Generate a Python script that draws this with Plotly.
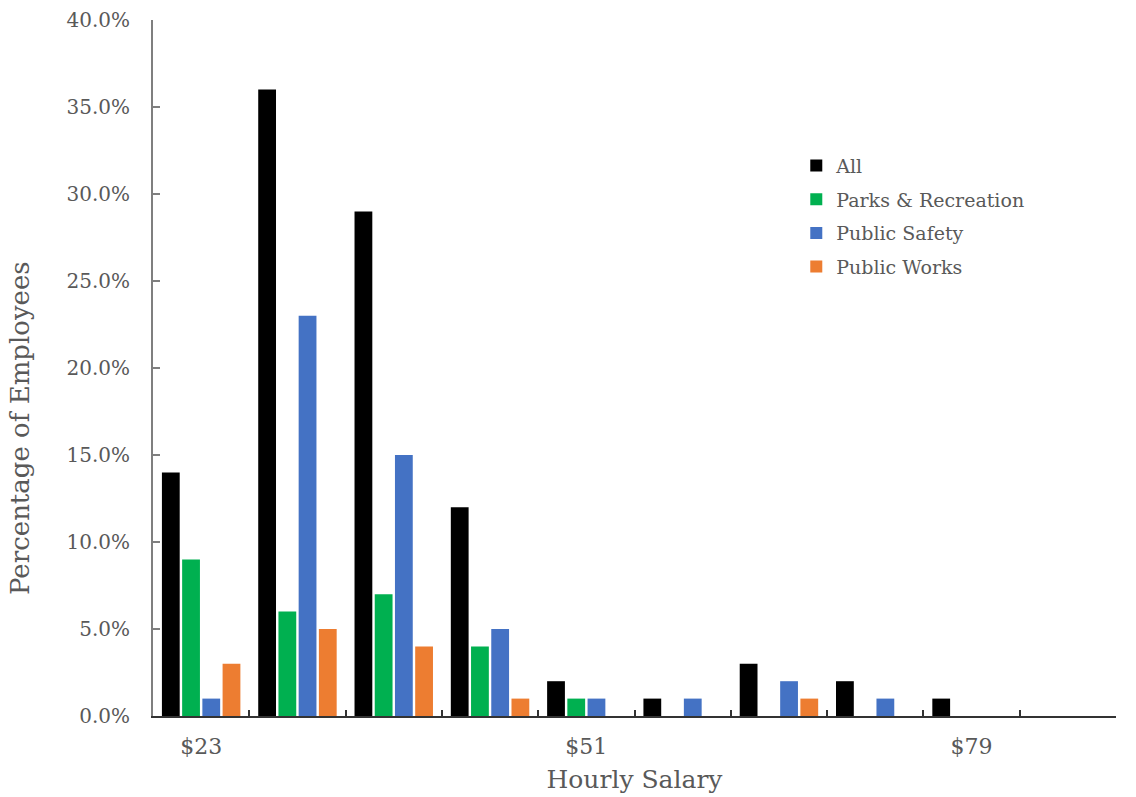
import plotly.graph_objects as go

# Hourly salary bins (upper edge of each $7 bracket)
categories = ["$23", "$30", "$37", "$44", "$51", "$58", "$65", "$72", "$79", "$86"]
tick_labels = ["$23", "", "", "", "$51", "", "", "", "$79", ""]

# Share of employees in each bracket, in percent
all_pct = [14, 36, 29, 12, 2, 1, 3, 2, 1, 0]
parks_pct = [9, 6, 7, 4, 1, 0, 0, 0, 0, 0]
safety_pct = [1, 23, 15, 5, 1, 1, 2, 1, 0, 0]
works_pct = [3, 5, 4, 1, 0, 0, 1, 0, 0, 0]

series = [
    ("All", all_pct, "#000000"),
    ("Parks & Recreation", parks_pct, "#00b050"),
    ("Public Safety", safety_pct, "#4472c4"),
    ("Public Works", works_pct, "#ed7d31"),
]

FONT = "DejaVu Serif"
TEXT = "#595959"

fig = go.Figure()
for name, values, color in series:
    fig.add_trace(go.Bar(
        x=categories, y=values, name=name, legendgroup=name,
        marker=dict(color=color, line=dict(width=0)),
    ))

fig.update_layout(
    width=1136, height=797,
    margin=dict(l=153, r=20, t=20, b=81),
    paper_bgcolor="white", plot_bgcolor="white",
    barmode="group", bargap=0.16, bargroupgap=0.12,
    font=dict(family=FONT, color=TEXT),
    showlegend=True,
    legend=dict(
        x=0.668, y=0.818, xanchor="left", yanchor="top",
        font=dict(family=FONT, size=19, color=TEXT),
        traceorder="grouped", tracegroupgap=6,
        bgcolor="rgba(0,0,0,0)",
    ),
    annotations=[dict(
        text="Percentage of Employees", textangle=-90,
        xref="paper", yref="paper", x=-0.138, y=0.414,
        xanchor="center", yanchor="middle", showarrow=False,
        font=dict(family=FONT, size=26, color=TEXT),
    )],
)

fig.update_xaxes(
    type="category", automargin=False,
    tickmode="array", tickvals=categories, ticktext=tick_labels,
    tickson="boundaries", ticks="inside", ticklen=6, tickwidth=1.5, tickcolor="#333333",
    showline=True, linecolor="#333333", linewidth=2,
    showgrid=False, zeroline=False,
    ticklabelstandoff=10,
    tickfont=dict(family=FONT, size=22, color=TEXT),
    title=dict(text="Hourly Salary", font=dict(family=FONT, size=25, color=TEXT), standoff=12),
)

fig.update_yaxes(
    range=[0, 40], dtick=5, tickformat=".1f", ticksuffix="%", automargin=False,
    ticks="inside", ticklen=7, tickwidth=1.5, tickcolor="#7f7f7f",
    showline=True, linecolor="#7f7f7f", linewidth=2,
    showgrid=False, zeroline=False,
    ticklabelstandoff=17,
    tickfont=dict(family=FONT, size=20, color=TEXT),
)

fig.write_html("out.html")
